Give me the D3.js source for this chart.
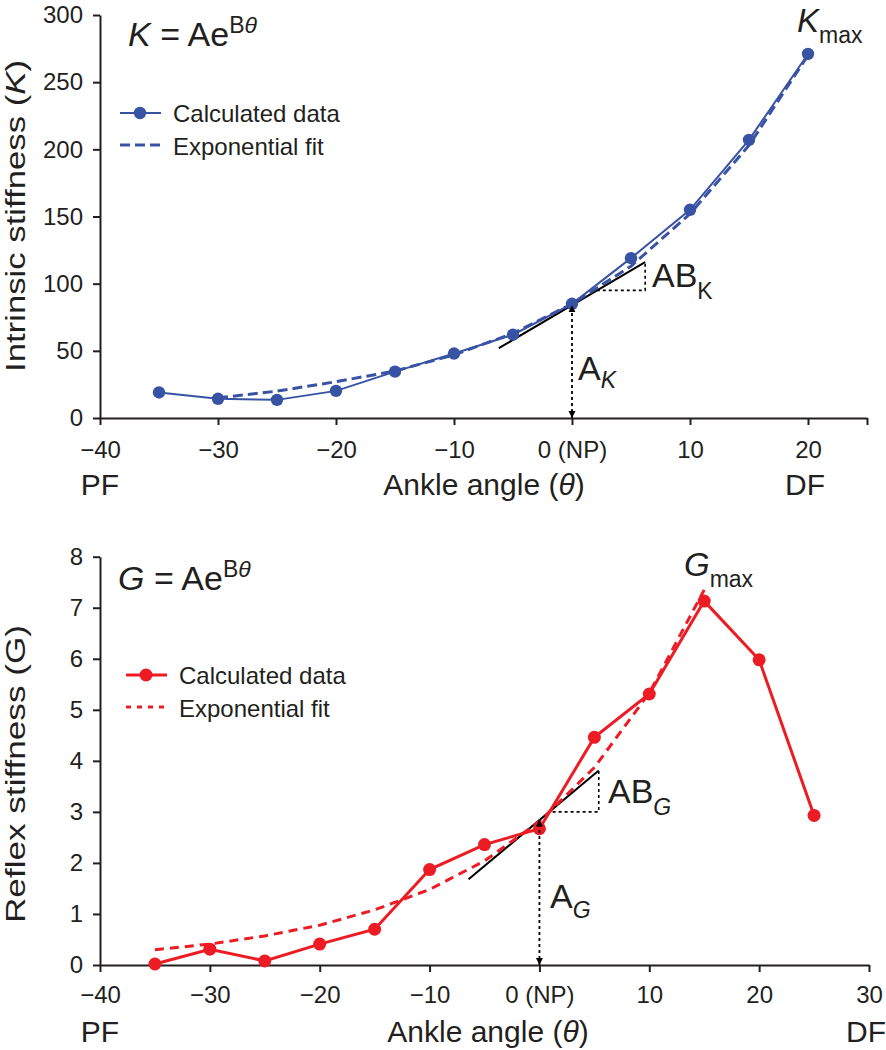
<!DOCTYPE html>
<html><head><meta charset="utf-8">
<script src="https://cdn.jsdelivr.net/npm/d3@7"></script>
<style>
body{margin:0;background:#fff;}
text{font-family:"Liberation Sans",Arial,Helvetica,sans-serif;fill:#231f20;}
</style></head>
<body><svg id="c" width="886" height="1050"></svg>
<script>
// ---- data ----
const thetaK = [-35,-30,-25,-20,-15,-10,-5,0,5,10,15,20];
const stiffK = [19,14.3,13.5,20.2,34.5,48,62,85,119,155,207,271];
const thetaKFit = [-30,-25,-20,-15,-10,-5,0,5,10,15,20];
const fitK = [15,20,27,35,47,63,85,113,152,203,270];
const tangentK = [[-6.2,52],[6.2,116]];
const triangleK = [[2.1,95],[6.2,95],[6.2,116]];
const arrowK = [[0,0],[0,84]];

const thetaG = [-35,-30,-25,-20,-15,-10,-5,0,5,10,15,20,25];
const stiffG = [0.02,0.31,0.08,0.41,0.70,1.87,2.36,2.67,4.46,5.31,7.13,5.98,2.93];
const thetaGFit = [-35,-30,-25,-20,-15,-10,-5,0,5,10,15];
const fitG = [0.30,0.41,0.57,0.78,1.08,1.48,2.04,2.81,3.87,5.33,7.35];
const tangentG = [[-6.45,1.68],[5.4,3.81]];
const triangleG = [[1.2,3.0],[5.4,3.0],[5.4,3.81]];
const arrowG = [[0,0],[0,2.85]];

const xTicksK = [-40,-30,-20,-10,0,10,20,25];
const xLabelsK = ["\u221240","\u221230","\u221220","\u221210","0 (NP)","10","20",""];
const yTicksK = [0,50,100,150,200,250,300];
const xTicksG = [-40,-30,-20,-10,0,10,20,30];
const xLabelsG = ["\u221240","\u221230","\u221220","\u221210","0 (NP)","10","20","30"];
const yTicksG = [0,1,2,3,4,5,6,7,8];

const BLUE = "#3953a4", RED = "#ed1c24", INK = "#231f20";

const svg = d3.select("#c");
const defs = svg.append("defs");
defs.append("marker").attr("id","arr").attr("viewBox","0 0 10 10").attr("refX",10).attr("refY",5)
  .attr("markerWidth",7).attr("markerHeight",8).attr("markerUnits","userSpaceOnUse").attr("orient","auto-start-reverse")
  .append("path").attr("d","M0,0L10,5L0,10z").attr("fill","#000");

function panel(o){
  const g = svg.append("g");
  const x = d3.scaleLinear().domain(o.xDom).range(o.xRange);
  const y = d3.scaleLinear().domain(o.yDom).range(o.yRange);
  const y0 = o.yRange[0];
  // axes
  const ax = g.append("g").attr("transform",`translate(0,${y0})`)
    .call(d3.axisBottom(x).tickValues(o.xTicks).tickSize(7).tickSizeOuter(0)
      .tickFormat((d,i)=>o.xLabels[i]));
  ax.selectAll("text").attr("y",o.tickBase).attr("dy",null).style("font-size","24px");
  const ay = g.append("g").attr("transform",`translate(${o.xRange[0]},0)`)
    .call(d3.axisLeft(y).tickValues(o.yTicks).tickSize(7).tickSizeOuter(0).tickPadding(10));
  ay.selectAll("text").style("font-size","24px");
  [ax,ay].forEach(a=>{a.selectAll("path,line").attr("stroke",INK).attr("stroke-width",2);
    a.selectAll("text").attr("fill",INK).style("font-family","'Liberation Sans',Arial,sans-serif");});

  const line = d3.line().x(d=>x(d[0])).y(d=>y(d[1]));
  // tangent & triangle
  g.append("path").attr("d",line(o.tangent)).attr("stroke","#000").attr("stroke-width",2).attr("fill","none");
  g.append("path").attr("d",line(o.triangle)).attr("stroke","#000").attr("stroke-width",1.6)
    .attr("stroke-dasharray","3,3").attr("fill","none");
  // fit
  g.append("path").attr("d",line(o.fitT.map((t,i)=>[t,o.fit[i]]))).attr("stroke",o.color)
    .attr("stroke-width",3).attr("stroke-dasharray",o.fitDash).attr("fill","none");
  // data
  const pts = o.dataT.map((t,i)=>[t,o.data[i]]);
  g.append("path").attr("d",line(pts)).attr("stroke",o.color).attr("stroke-width",o.lw).attr("fill","none");
  g.selectAll("circle.pt").data(pts).join("circle").attr("class","pt")
    .attr("cx",d=>x(d[0])).attr("cy",d=>y(d[1])).attr("r",o.r).attr("fill",o.color);
  // arrow (drawn over the points)
  g.append("path").attr("d",line(o.arrow)).attr("stroke","#000").attr("stroke-width",1.8)
    .attr("stroke-dasharray","3,3").attr("fill","none")
    .attr("marker-start","url(#arr)").attr("marker-end","url(#arr)");
  // legend
  const L = o.legend;
  g.append("line").attr("x1",L.x).attr("x2",L.x+41).attr("y1",L.y).attr("y2",L.y)
    .attr("stroke",o.color).attr("stroke-width",o.lw);
  g.append("circle").attr("cx",L.x+20).attr("cy",L.y).attr("r",o.r).attr("fill",o.color);
  g.append("text").attr("x",L.x+53).attr("y",L.y+9).style("font-size","24px").text("Calculated data");
  g.append("line").attr("x1",L.x).attr("x2",L.x+41).attr("y1",L.y+32).attr("y2",L.y+32)
    .attr("stroke",o.color).attr("stroke-width",3).attr("stroke-dasharray",L.dash);
  g.append("text").attr("x",L.x+53).attr("y",L.y+42).style("font-size","24px").text("Exponential fit");
  // axis labels
  g.append("text").attr("x",o.xRange[0]).attr("y",o.labBase).attr("text-anchor","middle").style("font-size","30px").text("PF");
  g.append("text").attr("x",o.dfX).attr("y",o.labBase).attr("text-anchor","middle").style("font-size","30px").text("DF");
  const al = g.append("text").attr("x",o.labX).attr("y",o.labBase).attr("text-anchor","middle").style("font-size","30px");
  al.append("tspan").text("Ankle angle (");
  al.append("tspan").style("font-style","italic").text("\u03b8");
  al.append("tspan").text(")");
  const yl = g.append("text").attr("transform",`translate(25,${o.yLabC}) rotate(-90)`).attr("text-anchor","middle")
    .style("font-size","27px").attr("textLength",o.yLabLen).attr("lengthAdjust","spacingAndGlyphs");
  yl.append("tspan").text(o.yLab+" (");
  yl.append("tspan").style("font-style",o.yLabItalic?"italic":"normal").text(o.sym);
  yl.append("tspan").text(")");
  // title
  const t = g.append("text").attr("x",o.title[0]).attr("y",o.title[1]).style("font-size","34px");
  t.append("tspan").style("font-style","italic").text(o.sym);
  t.append("tspan").text(" = Ae");
  t.append("tspan").attr("dy",-13).style("font-size","23px").text("B");
  t.append("tspan").style("font-size","23px").style("font-style","italic").text("\u03b8");
  // max label
  const m = g.append("text").attr("x",o.maxPos[0]).attr("y",o.maxPos[1]).style("font-size","33px");
  m.append("tspan").style("font-style","italic").text(o.sym);
  m.append("tspan").attr("dy",11).style("font-size","23px").text("max");
  // AB label
  const ab = g.append("text").attr("x",o.abPos[0]).attr("y",o.abPos[1]).style("font-size","34px");
  ab.append("tspan").text("AB");
  ab.append("tspan").attr("dy",12).style("font-size","23px").style("font-style",o.subItalicAB?"italic":"normal").text(o.sym);
  const a = g.append("text").attr("x",o.aPos[0]).attr("y",o.aPos[1]).style("font-size","34px");
  a.append("tspan").text("A");
  a.append("tspan").attr("dy",o.aSubDy).style("font-size","23px").style("font-style","italic").text(o.sym);
}

panel({xDom:[-40,25], xRange:[100,867], yDom:[0,300], yRange:[418,15],
  xTicks:xTicksK, xLabels:xLabelsK, yTicks:yTicksK, tickBase:40,
  tangent:tangentK, triangle:triangleK, arrow:arrowK,
  fitT:thetaKFit, fit:fitK, fitDash:"10,5", dataT:thetaK, data:stiffK,
  color:BLUE, lw:2, r:6.2,
  legend:{x:120,y:113,dash:"10,5"},
  labBase:495, dfX:805, labX:484,
  yLab:"Intrinsic stiffness", yLabItalic:true, sym:"K", yLabC:216, yLabLen:312,
  title:[128,46], maxPos:[797,32], abPos:[652,287], subItalicAB:false, aPos:[578,380], aSubDy:8});

panel({xDom:[-40,30], xRange:[100,869], yDom:[0,8], yRange:[965,556.7],
  xTicks:xTicksG, xLabels:xLabelsG, yTicks:yTicksG, tickBase:38,
  tangent:tangentG, triangle:triangleG, arrow:arrowG,
  fitT:thetaGFit, fit:fitG, fitDash:"9,6", dataT:thetaG, data:stiffG,
  color:RED, lw:3, r:6.5,
  legend:{x:126,y:675,dash:"5,6"},
  labBase:1042, dfX:866, labX:488,
  yLab:"Reflex stiffness", yLabItalic:false, sym:"G", yLabC:774, yLabLen:298,
  title:[118,590], maxPos:[684,576], abPos:[608,803], subItalicAB:true, aPos:[550,908], aSubDy:10});
</script></body></html>
